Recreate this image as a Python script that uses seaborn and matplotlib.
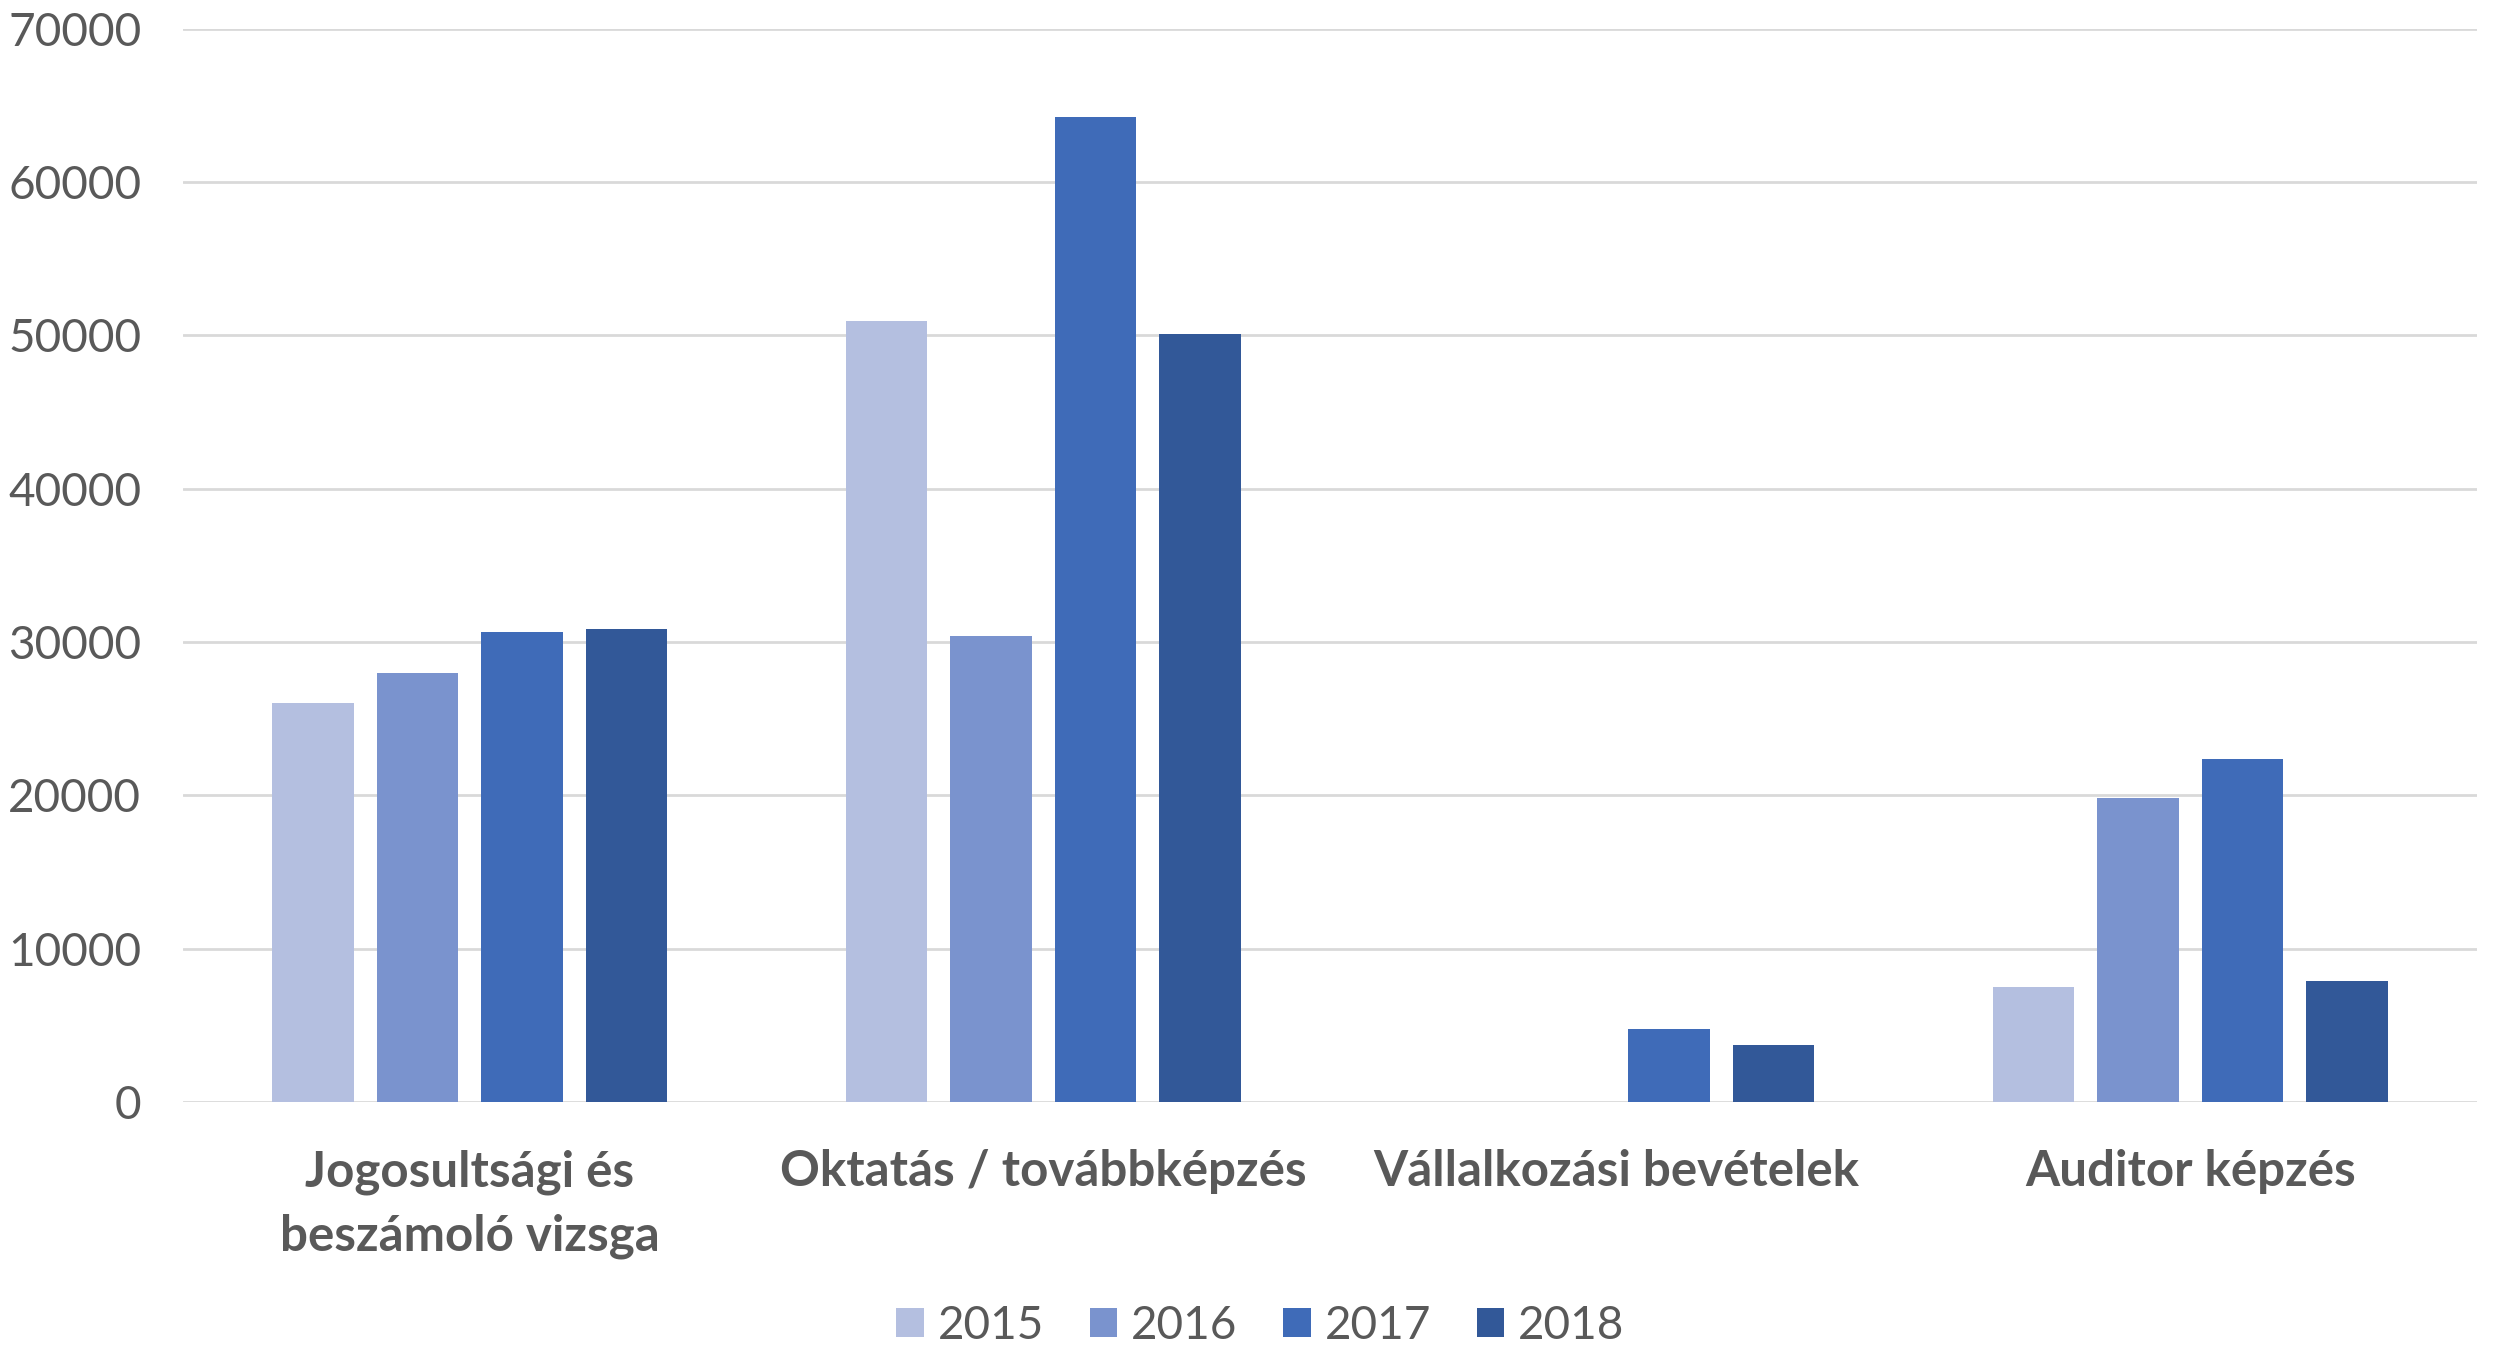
import matplotlib
matplotlib.use("Agg")
import matplotlib.pyplot as plt
import seaborn as sns
import pandas as pd
import numpy as np
from matplotlib.patches import Patch

categories = ["Jogosultsági és\nbeszámoló vizsga", "Oktatás / továbbképzés",
              "Vállalkozási bevételek", "Auditor képzés"]
years = ["2015", "2016", "2017", "2018"]
v2015 = [26050, 50930, np.nan, 7490]
v2016 = [27960, 30380, np.nan, 19830]
v2017 = [30670, 64220, 4790, 22370]
v2018 = [30850, 50060, 3700, 7860]
yticks = [0, 10000, 20000, 30000, 40000, 50000, 60000, 70000]
colors = ["#B4BFE0", "#7A93CE", "#3F6BB8", "#325898"]

series = {"2015": v2015, "2016": v2016, "2017": v2017, "2018": v2018}
rows = []
for y in years:
    for c, v in zip(categories, series[y]):
        rows.append({"Category": c, "Year": y, "Value": v})
df = pd.DataFrame(rows)

sns.set_style("white")
plt.rcParams["font.family"] = ["Lato", "DejaVu Sans"]

fig = plt.figure(figsize=(24.96, 13.49), dpi=100)
ax = fig.add_axes([0.0733, 0.1831, 0.9191, 0.7956])

sns.barplot(data=df, x="Category", y="Value", hue="Year", order=categories,
            hue_order=years, palette=colors, width=0.728, gap=0.22,
            errorbar=None, ax=ax, linewidth=0, saturation=1)

ax.set_xlim(-0.5, 3.5)
ax.set_ylim(0, 70000)
ax.set_yticks(yticks)
ax.set_yticklabels([str(t) for t in yticks])
ax.yaxis.grid(True, color="#D9D9D9", linewidth=2)
ax.set_axisbelow(True)
for s in ax.spines.values():
    s.set_visible(False)
ax.set_xlabel("")
ax.set_ylabel("")
ax.tick_params(axis="y", length=0, pad=30, labelsize=33, labelcolor="#595959")
ax.tick_params(axis="x", length=0, pad=34, labelsize=35.5, labelcolor="#595959")
for lab in ax.get_xticklabels():
    lab.set_fontweight("bold")
    lab.set_linespacing(1.52)

if ax.get_legend() is not None:
    ax.get_legend().remove()
handles = [Patch(facecolor=c, edgecolor="none") for c in colors]
fig.legend(handles, years, loc="center", bbox_to_anchor=(0.505, 0.017), ncol=4,
           frameon=False, fontsize=33, labelcolor="#595959",
           handlelength=0.6, handleheight=0.6, handletextpad=0.3, columnspacing=1.0)

fig.savefig("out.png", dpi=100)
